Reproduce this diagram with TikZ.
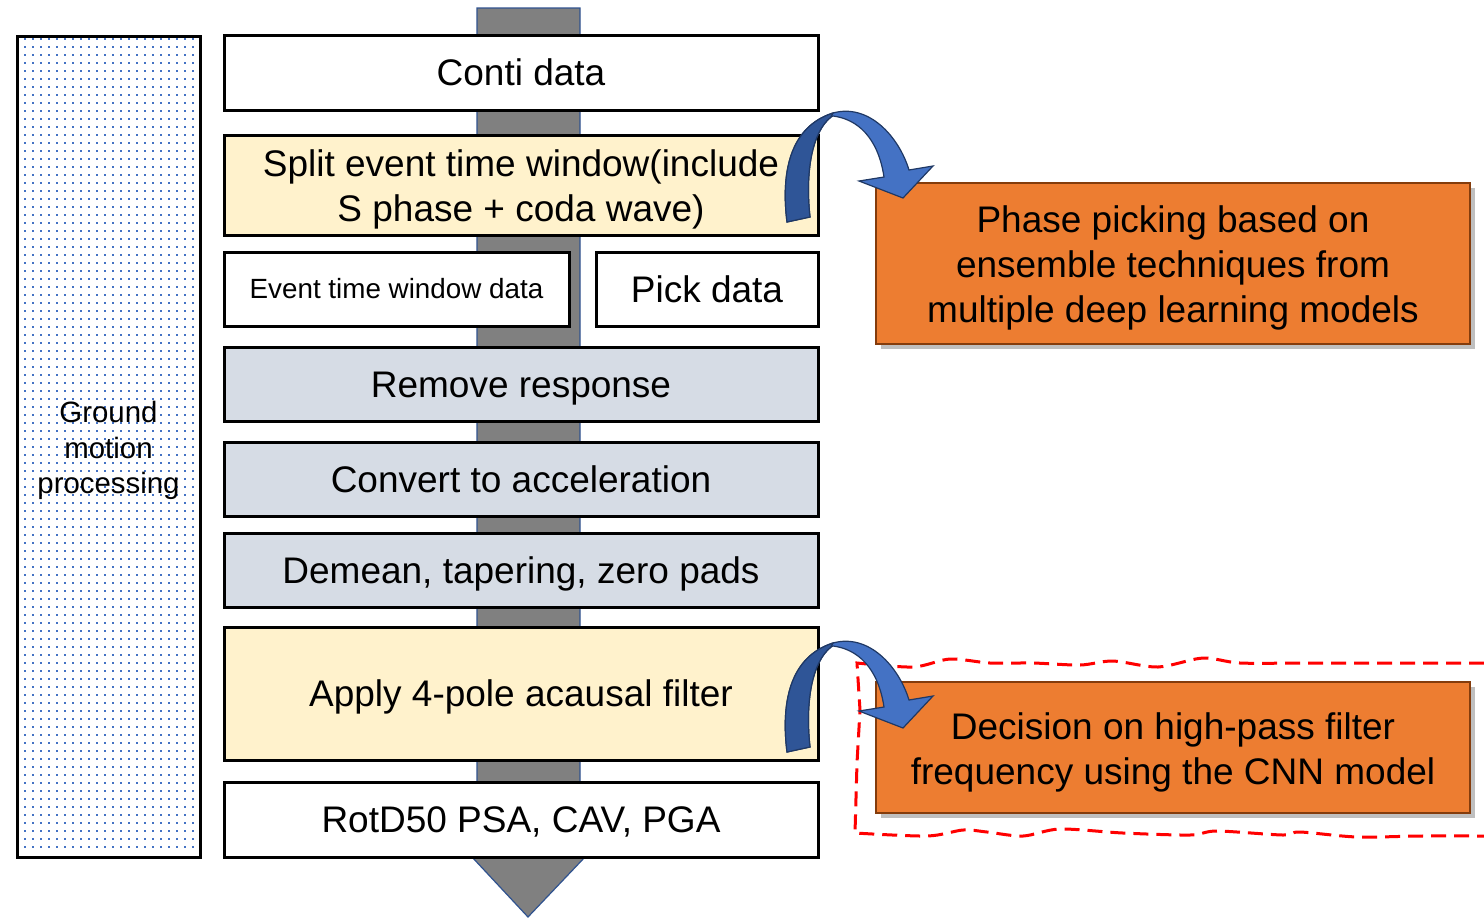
\documentclass[tikz,border=0pt]{standalone}
\usepackage{fontspec}
\setmainfont{Liberation Sans}
\usetikzlibrary{shadows}

\definecolor{flowgray}{HTML}{808080}
\definecolor{flowedge}{HTML}{2F528F}
\definecolor{paleyellow}{HTML}{FFF2CC}
\definecolor{paleblue}{HTML}{D6DCE5}
\definecolor{taskorange}{HTML}{ED7D31}
\definecolor{taskedge}{HTML}{843C0C}
\definecolor{bendlight}{HTML}{4472C4}
\definecolor{benddark}{HTML}{2F5597}
\definecolor{bendedge}{HTML}{1F3864}
\newcommand{\firstline}[1]{\rule{0pt}{#1em}}

\begin{document}
\begin{tikzpicture}[x=0.5pt, y=-0.5pt, stepbox/.style={draw=black, line width=1.5pt, inner sep=0pt, align=center, minimum width=297pt, minimum height=37pt, font=\fontsize{18.5pt}{22.5pt}\selectfont}, oneline/.style={text height=14.9pt, text depth=1.7pt}, taskbox/.style={draw=taskedge, fill=taskorange, line width=1.4pt, inner sep=0pt, align=center, minimum width=297pt, font=\fontsize{18.5pt}{22.5pt}\selectfont, drop shadow={shadow xshift=2.5pt, shadow yshift=-2.5pt, fill=black, opacity=0.25}}, wavy/.style={draw=red, line width=1.5pt, dash pattern=on 7.5pt off 4pt}, bendarrow/.pic={
        \fill[bendlight, draw=bendedge, line width=0.6pt] (0,0) .. controls (-6,-48) and (2,-95) .. (46,-109) .. controls (82,-119) and (112,-85) .. (122,-52) -- (146,-56) -- (116,-24) -- (72,-41) -- (97,-45) .. controls (91,-85) and (70,-103) .. (46,-106) -- (44,-105) .. controls (25,-90) and (18,-50) .. (23,-5) -- cycle;
        \fill[benddark, draw=bendedge, line width=0.6pt] (0,0) .. controls (-6,-48) and (2,-95) .. (46,-109) -- (44,-105) .. controls (25,-90) and (18,-50) .. (23,-5) -- cycle;
      }]
      \useasboundingbox (0,0) rectangle (1484,918);

      % main flow arrow
      \draw[fill=flowgray, draw=flowedge, line width=0.6pt] (477,8) -- (580,8) -- (580,857) -- (585,857) -- (528,917) -- (472,857) -- (477,857) -- cycle;

      % left label box, dotted fill
      \foreach \i in {0,...,21}
        \foreach \j in {0,...,101}
          \fill[bendlight] (24+\i*8,38+\j*8) rectangle ++(2.2,2.2);
      \node[draw=black, line width=1.5pt, minimum width=91.5pt, minimum height=410.5pt, inner sep=0pt, align=center, font=\fontsize{14.7pt}{17.8pt}\selectfont] (ground) at (108.5,446.5) {\firstline{1.0}Ground\\motion\\processing};

      % processing steps
      \node[stepbox, oneline, fill=white, minimum height=37.5pt] (conti) at (521,72.5) {Conti data};
      \node[stepbox, fill=paleyellow, minimum height=50pt] (split) at (521,185) {\firstline{0.97}Split event time window(include\\S phase + coda wave)};
      \node[stepbox, oneline, fill=white, minimum width=172.5pt, text height=10.9pt, text depth=1.3pt, font=\fontsize{13.9pt}{16pt}\selectfont] (evwin) at (396.5,289) {Event time window data};
      \node[stepbox, oneline, fill=white, minimum width=111pt] (pick) at (707,289) {Pick data};
      \node[stepbox, oneline, fill=paleblue] (remresp) at (521,384) {Remove response};
      \node[stepbox, oneline, fill=paleblue] (convacc) at (521,479) {Convert to acceleration};
      \node[stepbox, oneline, fill=paleblue] (demean) at (521,570) {Demean, tapering, zero pads};
      \node[stepbox, oneline, fill=paleyellow, minimum height=66.5pt] (filter) at (521,693.5) {Apply 4-pole acausal filter};
      \node[stepbox, oneline, fill=white, minimum height=37.5pt] (rotd) at (521,819.5) {RotD50 PSA, CAV, PGA};

      % model tasks
      \node[taskbox, minimum height=80.5pt] (phase) at (1173,263.5) {\firstline{0.95}Phase picking based on\\ensemble techniques from\\multiple deep learning models};
      \draw[wavy] plot[smooth] coordinates {(1484,663) (1400,663) (1307,663) (1240,663) (1203,658) (1158,667) (1113,661) (1080,665) (1033,663) (990,663) (950,659) (913,667) (857,663)} -- (860,710) -- (857,763) -- plot[smooth] coordinates {(855,833) (927,836) (963,830) (987,832) (1023,836) (1060,829) (1123,833) (1190,835) (1217,831) (1283,835) (1300,832) (1357,837) (1420,836) (1484,836)};
      \node[taskbox, minimum height=65.5pt] (decision) at (1173,747.5) {\firstline{0.99}Decision on high-pass filter\\frequency using the CNN model};

      % bent arrows
      \pic at (787,222) {bendarrow};
      \pic at (787,752) {bendarrow};
    \end{tikzpicture}
\end{document}
